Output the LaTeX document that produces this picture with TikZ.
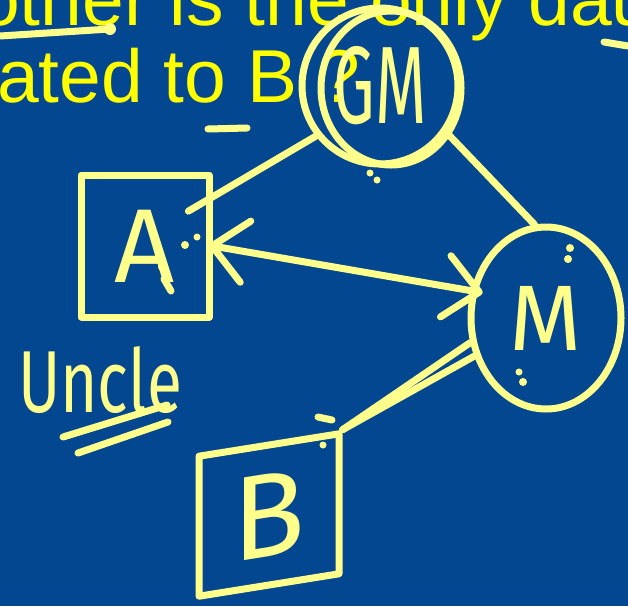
\documentclass[tikz,border=0pt]{standalone}
\usepackage{fontspec,graphicx}
\setmainfont{Liberation Sans}
\newfontfamily\handfont{Fira Sans}
\usepackage{xcolor}
\usetikzlibrary{arrows.meta}
\usetikzlibrary{shapes.geometric}
\definecolor{board}{RGB}{4,71,145}
\definecolor{hiyellow}{RGB}{255,255,0}
\definecolor{pen}{RGB}{255,255,140}

\begin{document}
\begin{tikzpicture}[x=1pt,y=-1pt,
        ink/.style={draw=pen,line width=7pt,line cap=round,line join=round},
        headline/.style={anchor=base west,inner sep=0pt,text=hiyellow,font=\fontsize{75}{77}\selectfont},
        hand/.style={text=pen,inner sep=0pt,font=\handfont\fontsize{#1}{#1}\selectfont},
        >={Straight Barb[length=34pt,width=62pt,round]}]
        \useasboundingbox (0,0) rectangle (628,606);
        \fill[board] (0,0) rectangle (628,606);
        \clip (0,0) rectangle (628,606);
        \node[headline] (line1) at (-22,25) {other is the only dau};
        \node[headline] (line2) at (-3,102) {ated to B ?};
        \draw[ink] (0,36) -- (110,29);
        \fill[pen] (110,29) circle (6);
        \draw[ink] (208,129) -- (247,128);
        \draw[ink] (604,42) -- (628,46);
        \node[ink,circle,minimum size=156pt,hand=110] (gm) at (380,86) {\scalebox{0.6}[1]{GM}};
        \draw[ink] (391,88) ellipse [x radius=70,y radius=77];
        \node[ink,rectangle,minimum width=128pt,minimum height=142pt,hand=105] (a) at (145,246) {A};
        \node[ink,ellipse,minimum width=150pt,minimum height=182pt,hand=93] (m) at (546,318) {M};
        \node[ink,rectangle,minimum width=140pt,minimum height=140pt,yslant=0.16,hand=120] (b) at (269,515) {B};
        \node[hand=80] (uncle) at (100,380) {\scalebox{0.8}[1.1]{Uncle}};
        \draw[ink,shorten >=-28pt] (gm.218) -- (a.36);
        \draw[ink] (gm.-35) -- (m.97);
        \draw[ink,<->,shorten <=-4pt,shorten >=-12pt] (a.east) -- (m.160);
        \draw[ink] (m.198) -- (b.north east);
        \draw[ink] (m.208) -- (b.north east);
        \draw[ink] (63,437) -- (167,405);
        \draw[ink] (78,453) -- (168,422);
        \fill[pen] (185,245) circle (4);
        \fill[pen] (197,237) circle (3.5);
        \fill[pen] (162,267) circle (4);
        \draw[ink] (164,279) -- (171,291);
        \fill[pen] (570,248) circle (4);
        \fill[pen] (568,259) circle (4);
        \fill[pen] (519,372) circle (3.5);
        \fill[pen] (523,382) circle (4);
        \fill[pen] (323,445) circle (3.5);
        \draw[ink] (318,417) -- (332,420);
        \fill[pen] (370,173) circle (3.5);
        \fill[pen] (377,180) circle (3.5);
\end{tikzpicture}
\end{document}
